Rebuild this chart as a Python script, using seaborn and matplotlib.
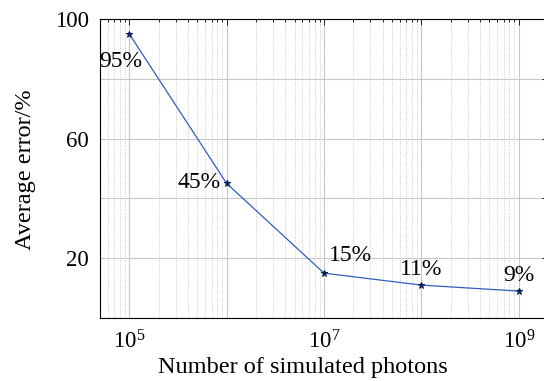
import matplotlib
matplotlib.use("Agg")
import matplotlib.pyplot as plt
import seaborn as sns
import pandas as pd
from matplotlib.ticker import LogLocator, FixedLocator, NullFormatter, FuncFormatter

photons = [1e5, 1e6, 1e7, 1e8, 1e9]
errors = [95, 45, 15, 11, 9]
labels = ["95%", "45%", "15%", "11%", "9%"]
label_offsets = [(-6.5, -19.5), (-4, 1), (19, 13), (0, 11.5), (0, 11)]
label_ha = ["center", "right", "center", "center", "center"]

sns.set_theme(style="white")
plt.rcParams['font.family'] = ['Liberation Serif', 'DejaVu Serif']
plt.rcParams['mathtext.fontset'] = 'custom'
plt.rcParams['mathtext.rm'] = 'Liberation Serif'
plt.rcParams['mathtext.it'] = 'Liberation Serif:italic'

df = pd.DataFrame({"photons": photons, "error": errors})

fig = plt.figure(figsize=(5.44, 3.81), dpi=100)
ax = fig.add_axes([100/544, 1-318/381, 448/544, (318-19)/381])

ax.set_xscale("log")
ax.set_xlim(5e4, 2e9)
ax.set_ylim(0, 100)

sns.lineplot(data=df, x="photons", y="error", ax=ax, color="#2f5fbf", linewidth=0.9,
             marker="*", markersize=5, markerfacecolor="#0a1e5a", markeredgecolor="#0a1e5a")

for xv, yv, lab, off, ha in zip(photons, errors, labels, label_offsets, label_ha):
    ax.annotate(lab, (xv, yv), xytext=off, textcoords="offset points", ha=ha, va="center",
                fontsize=17, color="black")

ax.xaxis.set_major_locator(FixedLocator([1e5, 1e6, 1e7, 1e8, 1e9]))
ax.xaxis.set_minor_locator(LogLocator(base=10, subs=range(2, 10)))
ax.xaxis.set_major_formatter(FuncFormatter(lambda v, p: {1e5: r"$\mathrm{10^5}$", 1e7: r"$\mathrm{10^7}$", 1e9: r"$\mathrm{10^9}$"}.get(v, "")))
ax.xaxis.set_minor_formatter(NullFormatter())
ax.yaxis.set_major_locator(FixedLocator([0, 20, 40, 60, 80, 100]))
ax.yaxis.set_major_formatter(FuncFormatter(lambda v, p: str(int(v)) if int(v) in (20, 60, 100) else ""))

ax.grid(True, which="major", color="#c8c8c8", linewidth=0.8, linestyle="-")
ax.grid(True, which="minor", axis="x", color="#bdbdbd", linewidth=0.6, linestyle=":")

ax.tick_params(axis="both", which="both", direction="in", top=True, right=True,
               labelsize=16.5, colors="black", length=4, width=0.6)
ax.tick_params(axis="x", which="major", pad=9)
ax.tick_params(axis="y", which="major", pad=8)
ax.tick_params(which="minor", length=2.5)
for s in ax.spines.values():
    s.set_color("black")
    s.set_linewidth(0.8)

ax.set_xlabel("Number of simulated photons", fontsize=17.5, color="black", va="center")
ax.xaxis.set_label_coords(0.453, -0.167)
ax.set_ylabel("Average error/%", fontsize=17.5, color="black", va="center")
ax.yaxis.set_label_coords(-0.167, 0.495)

fig.savefig("out.png", dpi=100)
